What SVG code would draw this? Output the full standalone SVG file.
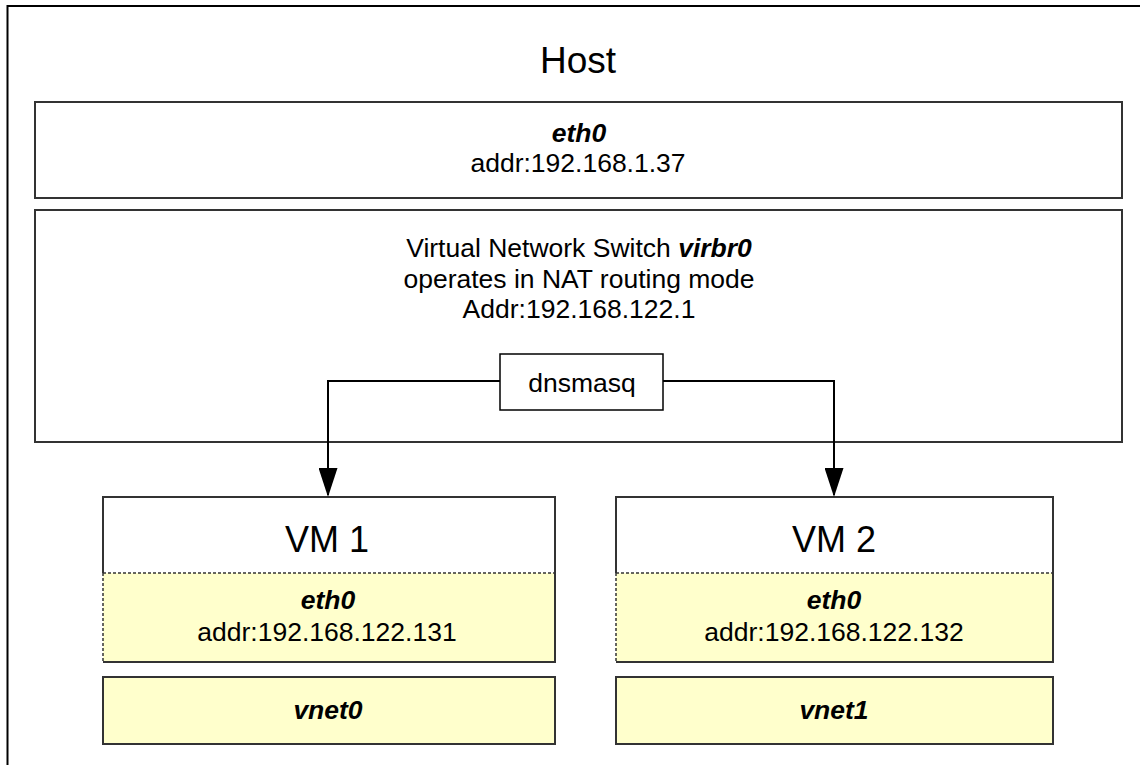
<svg xmlns="http://www.w3.org/2000/svg" width="1140" height="765" viewBox="0 0 1140 765">
<style>
  text { font-family: "Liberation Sans", Arial, sans-serif; fill: #000; text-anchor: middle; }
  .t26 { font-size: 26.5px; }
  .big { font-size: 36px; }
  .host { font-size: 37px; }
  .bi { font-weight: bold; font-style: italic; }
  .box { fill: #fff; stroke: #333; stroke-width: 2; }
  .ybox { fill: #ffffcc; stroke: #333; stroke-width: 2; }
  .yfill { fill: #ffffcc; stroke: none; }
  .edge { fill: none; stroke: #333; stroke-width: 2; }
  .dash { fill: none; stroke: #333; stroke-width: 1.5; stroke-dasharray: 3 2; }
  .conn { fill: none; stroke: #000; stroke-width: 2; }
</style>
<defs>
  <marker id="arrow" markerWidth="29" markerHeight="19" refX="27" refY="9.5" orient="auto" markerUnits="userSpaceOnUse" viewBox="0 0 29 19">
    <path d="M0,0 L29,9.5 L0,19 Z" fill="#000"/>
  </marker>
</defs>
<rect x="0" y="0" width="1140" height="765" fill="#fff"/>
<g id="host">
  <rect x="7.5" y="6" width="1200" height="800" fill="none" stroke="#000" stroke-width="2"/>
  <text class="host" x="578" y="73">Host</text>
</g>
<g id="host-eth0">
  <rect class="box" x="35" y="102" width="1087" height="96"/>
  <text class="t26 bi" x="579" y="142">eth0</text>
  <text class="t26" x="578" y="172">addr:192.168.1.37</text>
</g>
<g id="virbr0">
  <rect class="box" x="35" y="210" width="1087" height="232"/>
  <text class="t26" x="579" y="257">Virtual Network Switch <tspan class="bi">virbr0</tspan></text>
  <text class="t26" x="579" y="288">operates in NAT routing mode</text>
  <text class="t26" x="579" y="318">Addr:192.168.122.1</text>
</g>
<g id="dnsmasq">
  <rect x="500" y="354" width="163" height="56" fill="#fff" stroke="#000" stroke-width="1.5"/>
  <text class="t26" x="582" y="392">dnsmasq</text>
</g>
<g id="vm1">
  <rect x="103" y="497" width="452" height="165" fill="#fff"/>
  <rect class="yfill" x="103" y="573" width="452" height="89"/>
  <path class="edge" d="M103,573 L103,497 L555,497 L555,662 L103,662"/>
  <path class="dash" d="M103,573 L555,573 M103,573 L103,662"/>
  <text class="big" x="327" y="552">VM 1</text>
  <text class="t26 bi" x="328" y="609">eth0</text>
  <text class="t26" x="327" y="641">addr:192.168.122.131</text>
</g>
<g id="vnet0">
  <rect class="ybox" x="103" y="677" width="452" height="67"/>
  <text class="t26 bi" x="328" y="719">vnet0</text>
</g>
<g id="vm2">
  <rect x="616" y="497" width="437" height="165" fill="#fff"/>
  <rect class="yfill" x="616" y="573" width="437" height="89"/>
  <path class="edge" d="M616,573 L616,497 L1053,497 L1053,662 L616,662"/>
  <path class="dash" d="M616,573 L1053,573 M616,573 L616,662"/>
  <text class="big" x="834" y="552">VM 2</text>
  <text class="t26 bi" x="834" y="609">eth0</text>
  <text class="t26" x="834" y="641">addr:192.168.122.132</text>
</g>
<g id="vnet1">
  <rect class="ybox" x="616" y="677" width="437" height="67"/>
  <text class="t26 bi" x="834" y="719">vnet1</text>
</g>
<g id="connectors">
  <path class="conn" d="M500,381 L328,381 L328,495" marker-end="url(#arrow)"/>
  <path class="conn" d="M663,381 L834,381 L834,495" marker-end="url(#arrow)"/>
</g>
</svg>
